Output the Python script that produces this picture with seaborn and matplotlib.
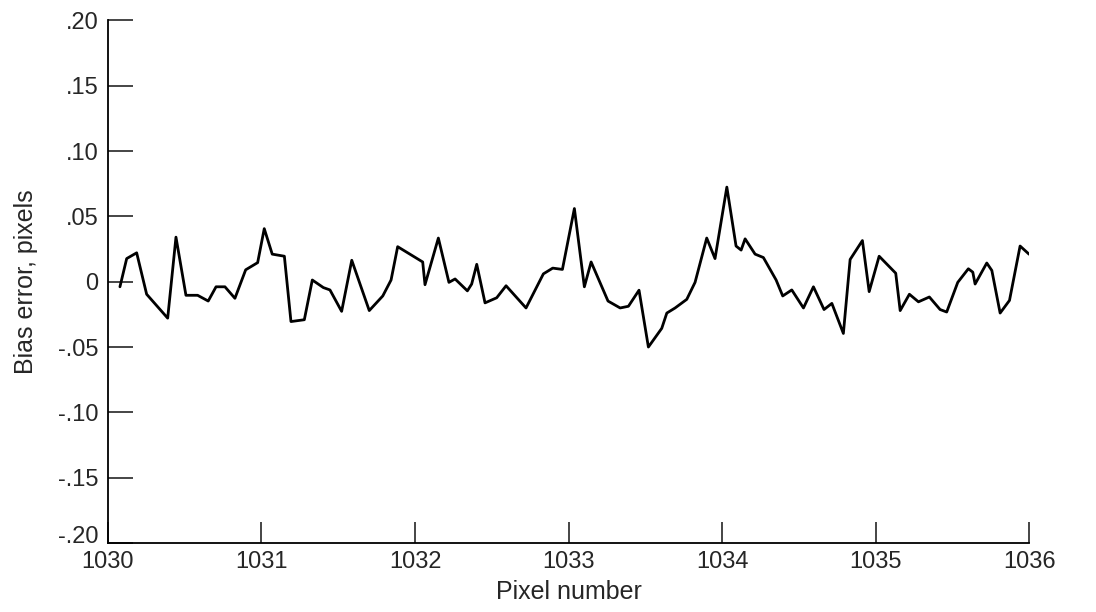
import matplotlib
matplotlib.use("Agg")
import matplotlib.pyplot as plt
from matplotlib.ticker import FuncFormatter
import seaborn as sns
import pandas as pd

# values
pixel = [1030.078, 1030.122, 1030.187, 1030.252, 1030.389, 1030.443, 1030.508, 1030.584,
         1030.653, 1030.704, 1030.762, 1030.827, 1030.897, 1030.975, 1031.018, 1031.070,
         1031.149, 1031.192, 1031.279, 1031.331, 1031.403, 1031.446, 1031.522, 1031.588,
         1031.702, 1031.790, 1031.844, 1031.887, 1032.050, 1032.065, 1032.152, 1032.221,
         1032.261, 1032.341, 1032.369, 1032.402, 1032.456, 1032.532, 1032.593, 1032.723,
         1032.836, 1032.897, 1032.960, 1033.038, 1033.103, 1033.147, 1033.257, 1033.336,
         1033.390, 1033.459, 1033.520, 1033.607, 1033.640, 1033.694, 1033.770, 1033.824,
         1033.900, 1033.954, 1034.031, 1034.091, 1034.124, 1034.150, 1034.215, 1034.269,
         1034.352, 1034.395, 1034.454, 1034.530, 1034.595, 1034.664, 1034.715, 1034.790,
         1034.834, 1034.914, 1034.958, 1035.023, 1035.131, 1035.160, 1035.220, 1035.279,
         1035.350, 1035.420, 1035.463, 1035.535, 1035.604, 1035.633, 1035.648, 1035.724,
         1035.757, 1035.811, 1035.872, 1035.941, 1036.000]
bias = [-0.0039, 0.0177, 0.0221, -0.0096, -0.0279, 0.0341, -0.0104, -0.0104,
        -0.0148, -0.0039, -0.0039, -0.0127, 0.0091, 0.0146, 0.0406, 0.0211,
        0.0195, -0.0305, -0.0291, 0.0013, -0.0045, -0.0063, -0.0227, 0.0164,
        -0.0221, -0.0109, 0.0013, 0.0268, 0.0151, -0.0023, 0.0334, -0.0005,
        0.0021, -0.0070, -0.0018, 0.0133, -0.0162, -0.0123, -0.0031, -0.0201,
        0.0060, 0.0104, 0.0094, 0.0560, -0.0039, 0.0151, -0.0148, -0.0201,
        -0.0188, -0.0065, -0.0500, -0.0357, -0.0240, -0.0201, -0.0135, -0.0005,
        0.0334, 0.0177, 0.0724, 0.0273, 0.0242, 0.0328, 0.0211, 0.0185,
        0.0013, -0.0109, -0.0063, -0.0201, -0.0039, -0.0213, -0.0166, -0.0396,
        0.0170, 0.0315, -0.0076, 0.0195, 0.0065, -0.0221, -0.0096, -0.0154,
        -0.0117, -0.0213, -0.0232, -0.0005, 0.0099, 0.0073, -0.0018, 0.0143,
        0.0086, -0.0240, -0.0143, 0.0273, 0.0210]

x_ticks = [1030, 1031, 1032, 1033, 1034, 1035, 1036]
y_ticks = [-0.20, -0.15, -0.10, -0.05, 0, 0.05, 0.10, 0.15, 0.20]


def bias_fmt(v, pos):
    if abs(v) < 1e-9:
        return "0"
    s = "%.2f" % v
    return s.replace("0.", ".")


sns.set_style("ticks")
plt.rcParams['font.family'] = ['Liberation Sans', 'DejaVu Sans']

df = pd.DataFrame({"Pixel number": pixel, "Bias error, pixels": bias})

fig = plt.figure(figsize=(10.96, 6.12), dpi=100)
ax = fig.add_axes([0.0985, 0.1127, 0.8405, 0.854])
sns.lineplot(data=df, x="Pixel number", y="Bias error, pixels", color="black",
             linewidth=2.0, ax=ax, sort=False)

ax.set_xlim(1030, 1036)
ax.set_ylim(-0.20, 0.20)
ax.set_xticks(x_ticks)
ax.set_yticks(y_ticks)
ax.yaxis.set_major_formatter(FuncFormatter(bias_fmt))
ax.tick_params(axis="y", direction="in", length=18, width=1.2, pad=7, labelsize=17)
ax.tick_params(axis="x", direction="in", length=15, width=1.2, pad=6, labelsize=17)
# bottom y label sits a bit above the axis line, as in the original
ax.get_yticklabels()[0].set_va("baseline")
sns.despine(ax=ax)
for s in ["left", "bottom"]:
    ax.spines[s].set_linewidth(1.3)
    ax.spines[s].set_color("black")
ax.set_xlabel("Pixel number", fontsize=18, labelpad=5)
ax.set_ylabel("Bias error, pixels", fontsize=18, labelpad=14)

plt.savefig("out.png", dpi=100)
